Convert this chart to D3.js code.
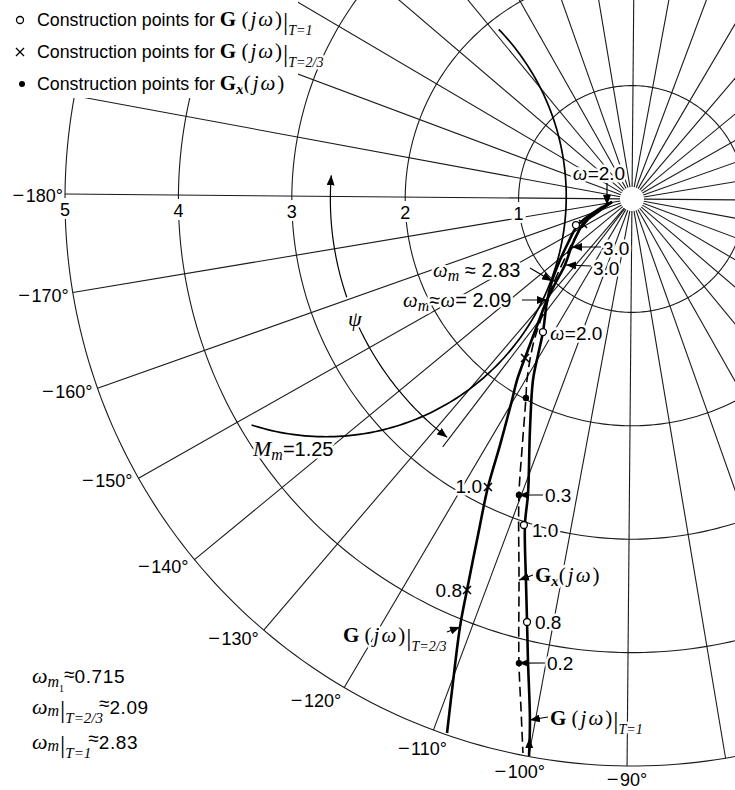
<!DOCTYPE html>
<html><head><meta charset="utf-8">
<script src="https://cdn.jsdelivr.net/npm/d3@7/dist/d3.min.js"></script>
<style>html,body{margin:0;padding:0;background:#fff}svg{display:block}</style>
</head><body>
<svg id="chart" width="735" height="790"></svg>
<script>
// ---------------- data ----------------
const ringMagnitudes = [1, 2, 3, 4, 5];
const ringLabels = ["1", "2", "3", "4", "5"];
const spokePhases = d3.range(-180, 180, 10);
const phaseLabels = [-180, -170, -160, -150, -140, -130, -120, -110, -100, -90];

// G(jw)|T=1  [Re, Im]
const gT1 = [[-0.176,-0.028],[-0.317,-0.109],[-0.474,-0.233],[-0.561,-0.393],[-0.648,-0.588],
  [-0.699,-0.729],[-0.742,-0.915],[-0.775,-1.180],[-0.817,-1.383],[-0.859,-1.604],[-0.882,-2.045],
  [-0.894,-2.601],[-0.919,-2.883],[-0.906,-3.368],[-0.893,-3.738],[-0.882,-4.073],[-0.860,-4.602],[-0.865,-4.920]];
// G(jw)|T=2/3
const gT23 = [[-0.176,-0.028],[-0.299,-0.117],[-0.422,-0.215],[-0.517,-0.393],[-0.586,-0.587],
  [-0.664,-0.738],[-0.742,-0.897],[-0.819,-1.101],[-0.906,-1.340],[-1.000,-1.605],[-1.042,-1.781],
  [-1.145,-2.180],[-1.248,-2.551],[-1.332,-2.974],[-1.425,-3.460],[-1.484,-3.787],[-1.549,-4.344],[-1.590,-4.723]];
// Gx(jw)
const gX = [[-0.176,-0.028],[-0.281,-0.100],[-0.386,-0.189],[-0.500,-0.348],[-0.586,-0.526],
  [-0.673,-0.720],[-0.733,-0.897],[-0.802,-1.092],[-0.862,-1.295],[-0.912,-1.604],[-0.920,-1.763],
  [-0.951,-2.222],[-0.974,-2.619],[-0.967,-3.369],[-0.961,-4.101],[-0.939,-4.515],[-0.919,-4.894]];

// construction points
const ptsT1 = [[-0.492,-0.234],[-0.775,-1.180],[-0.928,-2.883],[-0.893,-3.738]];   // open circles
const ptsT23 = [[-0.430,-0.224],[-0.931,-1.410],[-1.248,-2.551],[-1.425,-3.460]]; // crosses
const ptsX = [[-0.920,-1.763],[-0.974,-2.619],[-0.961,-4.101]];                     // dots

// M circle (Mm = 1.25)
const mCenter = -2.70, mRadius = 2.12, mArcFrom = 44.5, mArcTo = -108.4;
const psiDeg = 53.13, psiArcMag = 2.66;

// ---------------- layout ----------------
const W = 735, H = 790, ORIGIN = [632, 199], TILT = 0.5;
const SANS = "'Liberation Sans', Arial, Helvetica, sans-serif";
const SERIF = "'Liberation Serif', 'Times New Roman', serif";
const rScale = d3.scaleLinear().domain([0, 5]).range([0, 567]);
const cs = Math.cos(TILT * Math.PI / 180), sn = Math.sin(TILT * Math.PI / 180);
function proj(re, im) { const px = rScale(re), py = -rScale(im); return [ORIGIN[0] + px * cs - py * sn, ORIGIN[1] + px * sn + py * cs]; }
function polar(mag, deg) { const a = deg * Math.PI / 180; return proj(mag * Math.cos(a), mag * Math.sin(a)); }

const svg = d3.select('#chart');
svg.append('rect').attr('width', W).attr('height', H).attr('fill', '#fff');
const defs = svg.append('defs');
defs.append('marker').attr('id', 'ah').attr('viewBox', '0 0 10 8').attr('refX', 10).attr('refY', 4)
  .attr('markerWidth', 10).attr('markerHeight', 8).attr('markerUnits', 'userSpaceOnUse').attr('orient', 'auto-start-reverse')
  .append('path').attr('d', 'M0,0 L10,4 L0,8 Z').attr('fill', '#000');

const line = d3.line();
const grid = svg.append('g').attr('fill', 'none').attr('stroke', '#1a1a1a').attr('stroke-width', 1.1);
ringMagnitudes.forEach(m => grid.append('path').attr('d', line(d3.range(0, 361, 1).map(t => polar(m, t)))));
spokePhases.forEach(ph => grid.append('path').attr('d', line([polar(0.106, ph), polar(5, ph)])));

// ring numbers
ringMagnitudes.forEach((m, i) => {
  const [px, py] = polar(m, 180);
  svg.append('rect').attr('x', px - 7).attr('y', py + 4).attr('width', 14).attr('height', 21).attr('fill', '#fff');
  svg.append('text').attr('x', px).attr('y', py + 22).attr('text-anchor', 'middle')
    .attr('font-family', SANS).attr('font-size', 18).text(ringLabels[i]);
});

// phase labels
const phaseLayout = {
  '-180': [-2, 8, 'end'], '-170': [-4, 9, 'end'], '-160': [-5, 10, 'end'], '-150': [-6, 9, 'end'],
  '-140': [-6, 13, 'end'], '-130': [-5, 15, 'end'], '-120': [-3, 19, 'end'], '-110': [-11, 25, 'middle'],
  '-100': [-9, 21, 'middle'], '-90': [0, 20, 'middle']
};
phaseLabels.forEach(ph => {
  const [px, py] = polar(5, ph); const L = phaseLayout[ph];
  const t = svg.append('text').attr('x', px + L[0]).attr('y', py + L[1]).attr('text-anchor', L[2])
    .attr('font-family', SANS).attr('font-size', 18);
  t.append('tspan').attr('font-size', 20).text('\u2212');
  t.append('tspan').attr('dx', 1.5).text(Math.abs(ph) + '\u00B0');
});

// legend background
svg.append('rect').attr('x', 0).attr('y', 0).attr('width', 298).attr('height', 98).attr('fill', '#fff');

function rich(x, y, parts, anchor, halo) {
  const t = svg.append('text').attr('x', x).attr('y', y).attr('text-anchor', anchor || 'start').attr('fill', '#000');
  if (halo) t.attr('stroke', '#fff').attr('stroke-width', 5).attr('stroke-linejoin', 'round').attr('paint-order', 'stroke');
  let cur = 0;
  parts.forEach(p => {
    const off = p.sub || 0;
    const ts = t.append('tspan').attr('dy', off - cur).attr('font-family', p.serif ? SERIF : SANS)
      .attr('font-size', p.size || 17.5).attr('font-style', p.it ? 'italic' : null)
      .attr('font-weight', p.b ? 'bold' : null).text(p.t);
    if (p.ls) ts.attr('letter-spacing', p.ls);
    if (p.dx) ts.attr('dx', p.dx);
    cur = off;
  });
  return t;
}
const Gj = (sz, ls) => [{t: 'G', serif: 1, b: 1, size: sz}, {t: ' ', serif: 1, size: sz}, {t: '(', serif: 1, size: sz, ls: ls}, {t: 'j\u03C9', serif: 1, it: 1, size: sz, ls: ls}, {t: ')', serif: 1, size: sz}];
const bar = (s, sz) => [{t: '|', serif: 1, size: 26, sub: 4, dx: 1}, {t: s, serif: 1, it: 1, size: sz || 14, sub: 9}];
const Gx = (sz, ls) => [{t: 'G', serif: 1, b: 1, size: sz}, {t: 'x', serif: 1, b: 1, it: 1, size: 15, sub: 4},
  {t: '(', serif: 1, size: sz, sub: 0, ls: ls}, {t: 'j\u03C9', serif: 1, it: 1, size: sz, ls: ls}, {t: ')', serif: 1, size: sz}];

// legend
svg.append('circle').attr('cx', 20).attr('cy', 20).attr('r', 3.5).attr('fill', '#fff').attr('stroke', '#000').attr('stroke-width', 1.3);
rich(37, 26, [{t: 'Construction points for ', size: 17.8}].concat(Gj(21, 2), bar('T=1')), 'start', true);
svg.append('path').attr('d', 'M16,48 L24,56 M24,48 L16,56').attr('stroke', '#000').attr('stroke-width', 1.3);
rich(37, 58, [{t: 'Construction points for ', size: 17.8}].concat(Gj(21, 2), bar('T=2/3')), 'start', true);
svg.append('circle').attr('cx', 22).attr('cy', 84).attr('r', 3).attr('fill', '#000');
rich(37, 90, [{t: 'Construction points for ', size: 17.8}].concat(Gx(21, 2)), 'start', true);

// annotation texts (drawn before curves; halo breaks grid lines)
const w = (t, o) => Object.assign({t: t, serif: 1, it: 1, size: 21}, o || {});
const num = (t, o) => Object.assign({t: t, size: 19}, o || {});
rich(599, 180, [w('\u03C9'), num('=2.0')], 'middle', true);
rich(603, 255, [num('3.0')], 'start', true);
rich(593, 275, [num('3.0')], 'start', true);
rich(433, 277, [w('\u03C9'), w('m', {size: 16, sub: 4}), num(' \u2248 2.83', {size: 20, sub: 0})], 'start', true);
rich(403, 307, [w('\u03C9'), w('m', {size: 16, sub: 4}), num('\u2248', {size: 20, sub: 0}), w('\u03C9'), num('= 2.09', {size: 20})], 'start', true);
rich(550, 340, [w('\u03C9'), num('=2.0')], 'start', true);
rich(348, 326, [w('\u03C8', {size: 22})], 'start', true);
rich(253, 456, [w('M', {size: 22}), w('m', {size: 16, sub: 4}), num('=1.25', {size: 20, sub: 0})], 'start', true);
rich(482, 493, [num('1.0')], 'end', true);
rich(545, 502, [num('0.3')], 'start', true);
rich(532, 537, [num('1.0')], 'start', true);
rich(535, 582, Gx(21, 2), 'start', true);
rich(462, 597, [num('0.8')], 'end', true);
rich(535, 629, [num('0.8')], 'start', true);
rich(343, 642, Gj(21, 2).concat(bar('T=2/3')), 'start', true);
rich(547, 670, [num('0.2')], 'start', true);
rich(550, 725, Gj(21, 2).concat(bar('T=1')), 'start', true);

// bottom-left summary
rich(32, 683, [w('\u03C9', {size: 22}), w('m', {size: 16, sub: 4}), {t: '1', serif: 1, size: 10, sub: 9}, num('\u2248', {sub: -2}), num('0.715', {sub: 0, ls: 0.6})]);
rich(32, 714, [w('\u03C9', {size: 22}), w('m', {size: 16, sub: 2})].concat(bar('T=2/3', 15)).concat([num('\u2248', {sub: -4, dx: -4}), num('2.09', {sub: 0, ls: 0.6})]));
rich(32, 749, [w('\u03C9', {size: 22}), w('m', {size: 16, sub: 2})].concat(bar('T=1', 15)).concat([num('\u2248', {sub: -4, dx: -3}), num('2.83', {sub: 0, ls: 0.6})]));

// M circle
const mPts = d3.range(mArcFrom, mArcTo - 0.01, -1).map(p => proj(mCenter + mRadius * Math.cos(p * Math.PI / 180), mRadius * Math.sin(p * Math.PI / 180)));
svg.append('path').attr('d', line(mPts)).attr('fill', 'none').attr('stroke', '#000').attr('stroke-width', 1.7);

// psi line and arc
svg.append('path').attr('d', line([polar(0.106, -180 + psiDeg), polar(2.75, -180 + psiDeg)])).attr('stroke', '#1a1a1a').attr('stroke-width', 1.1);
svg.append('path').attr('d', line(d3.range(-184, -160.4, 0.5).map(p => polar(psiArcMag, p)))).attr('fill', 'none')
  .attr('stroke', '#000').attr('stroke-width', 1.2).attr('marker-start', 'url(#ah)');
svg.append('path').attr('d', line(d3.range(-154.3, -180 + psiDeg + 0.01, 0.5).map(p => polar(psiArcMag, p)))).attr('fill', 'none')
  .attr('stroke', '#000').attr('stroke-width', 1.2).attr('marker-end', 'url(#ah)');

// curves
const cLine = d3.line().curve(d3.curveCatmullRom.alpha(0.5));
svg.append('path').attr('d', cLine(gX.map(d => proj(d[0], d[1])))).attr('fill', 'none').attr('stroke', '#000')
  .attr('stroke-width', 1.6).attr('stroke-dasharray', '10,5');
svg.append('path').attr('d', cLine(gT23.map(d => proj(d[0], d[1])))).attr('fill', 'none').attr('stroke', '#000').attr('stroke-width', 2.6);
svg.append('path').attr('d', cLine(gT1.map(d => proj(d[0], d[1])))).attr('fill', 'none').attr('stroke', '#000').attr('stroke-width', 2.6);
{
  const a = proj(...gT1[gT1.length - 1]), b = proj(...gT1[gT1.length - 2]);
  const p = [a[0] + (b[0] - a[0]) * 0.5, a[1] + (b[1] - a[1]) * 0.5];
  svg.append('path').attr('d', line([a, p])).attr('stroke', 'none').attr('fill', 'none').attr('marker-end', 'url(#ah)');
}

// construction markers
ptsT1.forEach(d => { const [px, py] = proj(d[0], d[1]);
  svg.append('circle').attr('cx', px).attr('cy', py).attr('r', 3.5).attr('fill', '#fff').attr('stroke', '#000').attr('stroke-width', 1.3); });
ptsT23.forEach(d => { const [px, py] = proj(d[0], d[1]);
  svg.append('path').attr('d', `M${px-4},${py-4}L${px+4},${py+4}M${px+4},${py-4}L${px-4},${py+4}`).attr('stroke', '#000').attr('stroke-width', 1.5); });
ptsX.forEach(d => { const [px, py] = proj(d[0], d[1]);
  svg.append('circle').attr('cx', px).attr('cy', py).attr('r', 3.2).attr('fill', '#000'); });

// annotation arrows (to data targets)
function arrow(from, target) {
  svg.append('path').attr('d', line([from, proj(target[0], target[1])])).attr('stroke', '#000').attr('stroke-width', 1.2).attr('marker-end', 'url(#ah)');
}
arrow([607, 183], [-0.220, -0.055]);
arrow([601, 247], [-0.525, -0.428]);
arrow([591, 266], [-0.577, -0.587]);
arrow([530, 268], gT1[5]);
arrow([522, 300], gT23[6]);
arrow([543, 495], ptsX[1]);
arrow([533, 575], gX[13]);
arrow([447, 632], [-1.484, -3.787]);
arrow([545, 663], ptsX[2]);
arrow([548, 717], [-0.860, -4.602]);
</script>
</body></html>
